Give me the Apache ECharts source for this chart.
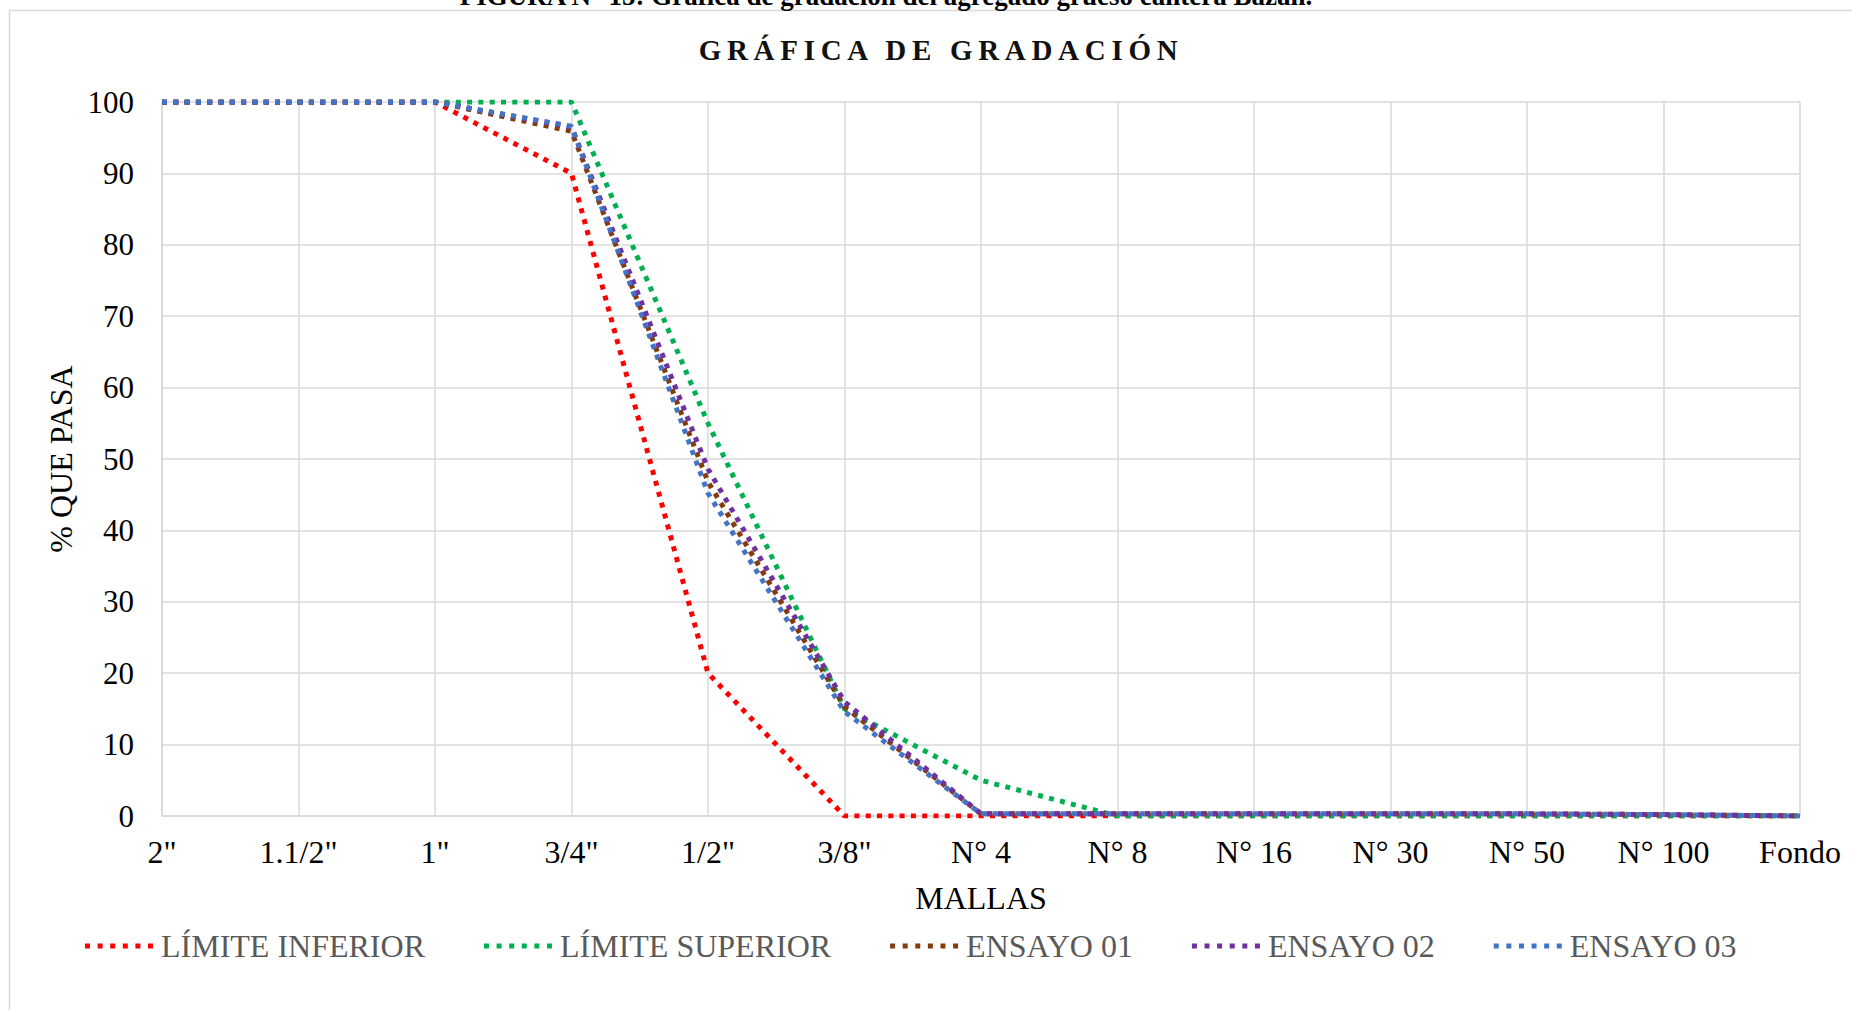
<!DOCTYPE html>
<html>
<head>
<meta charset="utf-8">
<script src="https://cdn.jsdelivr.net/npm/echarts@6/dist/echarts.min.js"></script>
<style>
  html, body { margin: 0; padding: 0; background: #fff; }
  #chart { width: 1852px; height: 1010px; }
</style>
</head>
<body>
<div id="chart"></div>
<script>
const mallas = ['2"', '1.1/2"', '1"', '3/4"', '1/2"', '3/8"', 'N° 4', 'N° 8', 'N° 16', 'N° 30', 'N° 50', 'N° 100', 'Fondo'];
const limiteInferior = [100, 100, 100, 90, 20, 0, 0, 0, 0, 0, 0, 0, 0];
const limiteSuperior = [100, 100, 100, 100, 55, 15, 5, 0, 0, 0, 0, 0, 0];
const ensayo01 = [100, 100, 100, 95.9, 46.8, 15.3, 0.3, 0.3, 0.3, 0.3, 0.3, 0.2, 0];
const ensayo02 = [100, 100, 100, 96.5, 48.6, 16.0, 0.3, 0.3, 0.3, 0.3, 0.3, 0.2, 0];
const ensayo03 = [100, 100, 100, 96.6, 45.2, 14.6, 0.3, 0.3, 0.3, 0.3, 0.3, 0.2, 0];

const TITLE = 'GRÁFICA DE GRADACIÓN';
const serif = '"Liberation Serif", "Times New Roman", serif';
// six square dots, like the legend keys in the reference
const dotIcon = 'path://M0,0h5v5h-5z M12.6,0h5v5h-5z M25.2,0h5v5h-5z M37.8,0h5v5h-5z M50.4,0h5v5h-5z M63,0h5v5h-5z';

const mkSeries = (name, data, color) => ({
  name, type: 'line', data, symbol: 'none', smooth: false,
  lineStyle: { color, width: 5, type: [5, 6.3], cap: 'butt' },
  itemStyle: { color }
});

const chart = echarts.init(document.getElementById('chart'), null, { renderer: 'svg' });
chart.setOption({
  animation: false,
  backgroundColor: '#fff',
  title: {
    text: TITLE,
    left: 936, top: 30, textAlign: 'center',
    textStyle: { fontFamily: serif, fontSize: 29, fontWeight: 'bold', color: '#111' }
  },
  graphic: [
    { type: 'rect', shape: { x: 9.5, y: 10.5, width: 1900, height: 1100 },
      style: { fill: 'none', stroke: '#d9d9d9', lineWidth: 1.5 }, silent: true },
    { type: 'text', x: 886, y: 9,
      style: { text: 'FIGURA N° 15: Gráfica de gradación del agregado grueso cantera Bazán.',
        font: 'bold 27px ' + serif, fill: '#000', align: 'center', verticalAlign: 'bottom' } }
  ],
  legend: {
    left: 80, top: 925, itemGap: 59, itemWidth: 68, itemHeight: 5,
    icon: dotIcon,
    textStyle: { fontFamily: serif, fontSize: 32, color: '#595959', padding: [0, 0, 0, 3] },
    data: ['LÍMITE INFERIOR', 'LÍMITE SUPERIOR', 'ENSAYO 01', 'ENSAYO 02', 'ENSAYO 03']
  },
  grid: { left: 162, right: 52, top: 102, bottom: 194, containLabel: false },
  xAxis: {
    type: 'category', data: mallas, boundaryGap: false,
    name: 'MALLAS', nameLocation: 'middle', nameGap: 66,
    nameTextStyle: { fontFamily: serif, fontSize: 32, color: '#000' },
    axisLine: { lineStyle: { color: '#d9d9d9', width: 1.5 } },
    axisTick: { show: false },
    axisLabel: { fontFamily: serif, fontSize: 32, color: '#000', margin: 20, interval: 0 },
    splitLine: { show: true, lineStyle: { color: '#d9d9d9', width: 1.5 } }
  },
  yAxis: {
    type: 'value', min: 0, max: 100, interval: 10,
    name: '% QUE PASA', nameLocation: 'middle', nameGap: 80,
    nameTextStyle: { fontFamily: serif, fontSize: 32, color: '#000' },
    axisLine: { show: true, lineStyle: { color: '#d9d9d9', width: 1.5 } },
    axisTick: { show: false },
    axisLabel: { fontFamily: serif, fontSize: 31, color: '#000', margin: 28 },
    splitLine: { lineStyle: { color: '#d9d9d9', width: 1.5 } }
  },
  series: [
    mkSeries('LÍMITE INFERIOR', limiteInferior, '#ff0000'),
    mkSeries('LÍMITE SUPERIOR', limiteSuperior, '#00b050'),
    mkSeries('ENSAYO 01', ensayo01, '#843c0c'),
    mkSeries('ENSAYO 02', ensayo02, '#7030a0'),
    mkSeries('ENSAYO 03', ensayo03, '#4472c4')
  ]
});

// the title in the reference is letter-spaced
document.querySelectorAll('#chart text').forEach(t => {
  if (t.textContent === TITLE) t.setAttribute('letter-spacing', '5.7');
});
</script>
</body>
</html>
